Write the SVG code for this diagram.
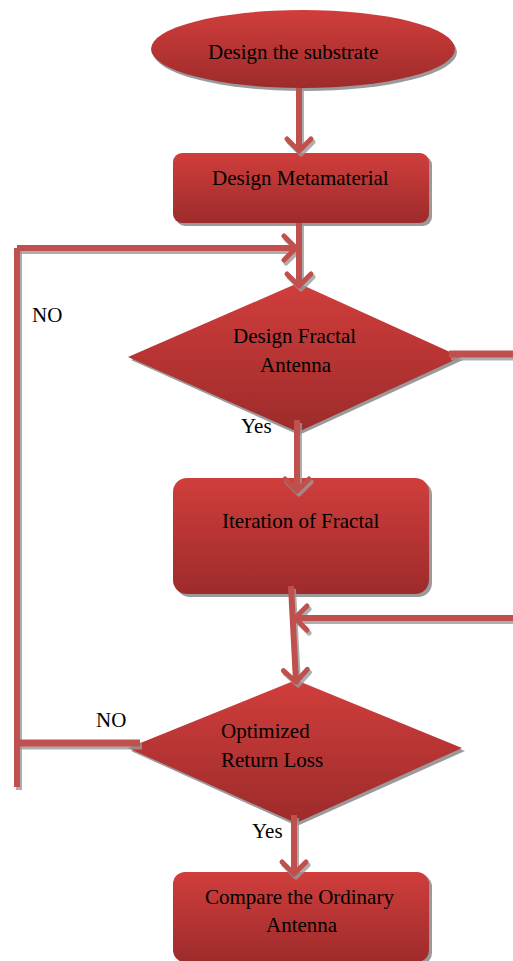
<svg xmlns="http://www.w3.org/2000/svg" width="513" height="961" viewBox="0 0 513 961">
<defs>
<linearGradient id="g" x1="0" y1="0" x2="0" y2="1">
<stop offset="0" stop-color="#d03e3c"/>
<stop offset="1" stop-color="#9d2b2b"/>
</linearGradient>
<marker id="ah" markerUnits="userSpaceOnUse" viewBox="-16 -16 20 32" markerWidth="20" markerHeight="32" refX="0" refY="0" orient="auto">
<path d="M-12,-12 L0,0 L-12,12" fill="none" stroke="#c0504d" stroke-width="5" stroke-linecap="round" stroke-linejoin="round"/>
</marker>
<marker id="ahs" markerUnits="userSpaceOnUse" viewBox="-16 -16 20 32" markerWidth="20" markerHeight="32" refX="0" refY="0" orient="auto">
<path d="M-12,-12 L0,0 L-12,12" fill="none" stroke="#9a9a9a" stroke-width="5" stroke-linecap="round" stroke-linejoin="round"/>
</marker>
</defs>
<style>
.shape{fill:url(#g)}
.shadow{fill:#9a9a9a}
.t{font-family:"Liberation Serif","Times New Roman",serif;font-size:21px;fill:#000}
.c{fill:none;stroke:#c0504d;stroke-width:6}
.cs{fill:none;stroke:#9a9a9a;stroke-width:6;opacity:0.8}
.a{marker-end:url(#ah)}
.as{marker-end:url(#ahs)}
</style>
<rect width="513" height="961" fill="#fff"/>
<g id="start">
<ellipse class="shadow" cx="305" cy="52" rx="152" ry="39"/>
<ellipse class="shape" cx="303" cy="49" rx="152" ry="39"/>
<text class="t" x="208" y="59">Design the substrate</text>
</g>
<g id="metamaterial">
<rect class="shadow" x="176" y="156" width="256" height="70" rx="9"/>
<rect class="shape" x="173" y="153" width="256" height="70" rx="9"/>
<text class="t" x="212" y="185">Design Metamaterial</text>
</g>
<g id="fractal">
<polygon class="shadow" points="299,286 463,360 299,435 131,360"/>
<polygon class="shape" points="298,283 461,357 298,432 128,357"/>
<text class="t" x="233" y="343">Design Fractal</text>
<text class="t" x="260" y="372">Antenna</text>
</g>
<g id="iteration">
<rect class="shadow" x="176" y="481" width="256" height="116" rx="14"/>
<rect class="shape" x="173" y="478" width="256" height="116" rx="14"/>
<text class="t" x="222" y="528">Iteration of Fractal</text>
</g>
<g id="optimized">
<polygon class="shadow" points="297,683 465,751 297,826 131,751"/>
<polygon class="shape" points="296,680 462,748 296,823 128,748"/>
<text class="t" x="221" y="738">Optimized</text>
<text class="t" x="221" y="767">Return Loss</text>
</g>
<g id="compare">
<rect class="shadow" x="176" y="875" width="256" height="90" rx="12"/>
<rect class="shape" x="173" y="872" width="256" height="90" rx="12"/>
<text class="t" x="205" y="904">Compare the Ordinary</text>
<text class="t" x="266" y="932">Antenna</text>
</g>
<g id="connectors">
<g transform="translate(2,3)">
<path class="cs as" d="M299,88 L299,151"/>
<path class="cs as" d="M299,223 L299,286"/>
<path class="cs" d="M17,787 L17,248"/>
<path class="cs as" d="M17,248 L296,248"/>
<path class="cs" d="M449,354 L513,354" style="stroke-width:7"/>
<path class="cs as" d="M297,420 L297,491"/>
<path class="cs as" d="M291,586 L296,682"/>
<path class="cs as" d="M513,618 L295,618"/>
<path class="cs" d="M17,743 L140,743" style="stroke-width:7"/>
<path class="cs as" d="M294,815 L294,874"/>
</g>
<path class="c a" d="M299,88 L299,151"/>
<path class="c a" d="M299,223 L299,286"/>
<path class="c" d="M17,787 L17,248"/>
<path class="c a" d="M17,248 L296,248"/>
<path class="c" d="M449,354 L513,354" style="stroke-width:7"/>
<path class="c a" d="M297,420 L297,491"/>
<path class="c a" d="M291,586 L296,682"/>
<path class="c a" d="M513,618 L295,618"/>
<path class="c" d="M17,743 L140,743" style="stroke-width:7"/>
<path class="c a" d="M294,815 L294,874"/>
</g>
<g id="labels">
<text class="t" x="32" y="322">NO</text>
<text class="t" x="241" y="433">Yes</text>
<text class="t" x="96" y="727">NO</text>
<text class="t" x="252" y="838">Yes</text>
</g>
</svg>
